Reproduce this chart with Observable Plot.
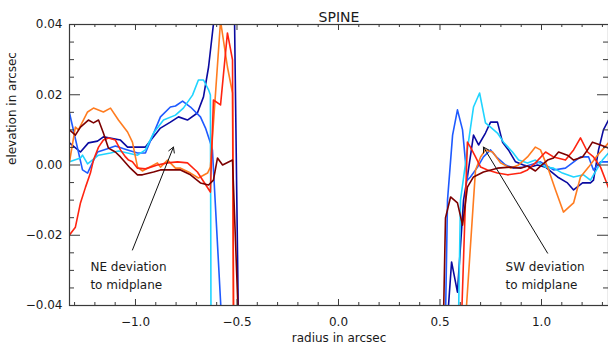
<!DOCTYPE html>
<html><head><meta charset="utf-8">
<script src="https://cdn.jsdelivr.net/npm/d3@7"></script>
<script src="https://cdn.jsdelivr.net/npm/@observablehq/plot@0.6"></script>
<style>body{margin:0;background:#fff}#chart svg{display:block}</style>
</head><body><div id="chart"></div>
<script>
// ---- data (radius in arcsec, elevation in arcsec) ----
const seriesNames  = ["navy", "blue", "cyan", "orange", "red", "darkred"];
const seriesColors = ["#0a0aa0", "#1e5aff", "#20d4ff", "#ff7c20", "#ff2410", "#7c0000"];

// NE side
const neNavyX = [-1.325,-1.271,-1.232,-1.187,-1.158,-1.074,-1.039,-0.951,-0.877,-0.828,-0.788,-0.744,-0.695,-0.665,-0.640,-0.616,-0.581,-0.542,-0.512,-0.493];
const neNavyY = [0.0063,0.0037,0.0063,0.0068,0.0080,0.0071,0.0051,0.0051,0.0105,0.0122,0.0137,0.0128,0.0148,0.0194,0.0279,0.0401,0.055,0.058,0.041,-0.045];
const neBlueX = [-1.325,-1.261,-1.236,-1.187,-1.138,-1.099,-1.039,-0.990,-0.951,-0.877,-0.828,-0.803,-0.768,-0.729,-0.680,-0.655,-0.631,-0.621,-0.576];
const neBlueY = [0.0148,-0.0014,-0.0023,0.0037,0.0046,0.0054,0.0043,0.0034,0.0034,0.0137,0.0165,0.0168,0.0182,0.0165,0.0137,0.0105,0.0063,0.0043,-0.0441];
const neCyanX = [-1.325,-1.271,-1.261,-1.236,-1.182,-1.123,-1.084,-1.039,-0.990,-0.951,-0.911,-0.862,-0.803,-0.764,-0.719,-0.690,-0.665,-0.640,-0.631,-0.628];
const neCyanY = [0.0009,0.0020,0.0028,0.0003,0.0028,0.0034,0.0040,0.0034,0.0028,0.0043,0.0091,0.0128,0.0142,0.0162,0.0199,0.0242,0.0242,0.0214,0.0199,-0.0441];
const neOrangeX = [-1.325,-1.296,-1.281,-1.236,-1.207,-1.158,-1.123,-1.084,-1.039,-1.015,-0.990,-0.966,-0.892,-0.877,-0.842,-0.803,-0.778,-0.729,-0.690,-0.645,-0.631,-0.581,-0.547,-0.522,-0.517];
const neOrangeY = [0.0009,0.0108,0.0100,0.0151,0.0162,0.0151,0.0162,0.0128,0.0094,0.0065,-0.0006,-0.0017,0.0006,-0.0006,0.0014,-0.0009,-0.0009,-0.0023,-0.0037,-0.0023,-0.0006,0.0410,0.0279,0.0205,-0.0441];
const neRedX = [-1.325,-1.296,-1.271,-1.246,-1.222,-1.207,-1.182,-1.158,-1.133,-1.099,-1.074,-1.049,-1.034,-1.015,-0.990,-0.951,-0.892,-0.842,-0.793,-0.744,-0.695,-0.631,-0.616,-0.581,-0.547,-0.522,-0.517];
const neRedY = [-0.0199,-0.0177,-0.0108,-0.0063,-0.0023,0.0014,0.0051,0.0071,0.0077,0.0071,0.0043,0.0023,0.0014,0.0009,-0.0009,-0.0011,0.0000,0.0006,0.0009,0.0006,-0.0020,-0.0077,0.0185,0.0171,0.0376,0.0299,-0.0441];
const neDarkredX = [-1.325,-1.296,-1.271,-1.232,-1.207,-1.182,-1.158,-1.133,-1.099,-1.074,-1.025,-0.990,-0.966,-0.911,-0.877,-0.778,-0.729,-0.680,-0.640,-0.616,-0.596,-0.571,-0.522,-0.493];
const neDarkredY = [0.0100,0.0085,0.0108,0.0128,0.0120,0.0128,0.0091,0.0048,0.0037,0.0023,-0.0009,-0.0028,-0.0028,-0.0020,-0.0014,-0.0014,-0.0028,-0.0051,-0.0057,-0.0043,0.0020,0.0000,0.0014,-0.0441];

// SW side
const swNavyX = [0.537,0.557,0.586,0.616,0.635,0.665,0.690,0.724,0.749,0.783,0.808,0.837,0.872,0.911,0.946,0.980,1.020,1.079,1.128,1.158,1.202,1.241,1.256,1.281,1.305,1.330];
const swNavyY = [-0.0441,-0.0276,-0.0362,-0.0100,-0.0034,0.0085,0.0057,0.0091,0.0122,0.0122,0.0065,0.0043,0.0009,0.0000,-0.0006,0.0000,-0.0006,-0.0034,-0.0051,-0.0071,-0.0051,-0.0051,-0.0043,0.0043,0.0100,0.0128];
const swBlueX = [0.527,0.537,0.562,0.586,0.611,0.626,0.635,0.650,0.685,0.714,0.749,0.783,0.823,0.862,0.911,0.995,1.059,1.118,1.192,1.232,1.256,1.291,1.330];
const swBlueY = [-0.0441,-0.0100,0.0085,0.0157,0.0100,0.0006,-0.0043,-0.0034,-0.0006,0.0023,0.0043,0.0020,0.0000,-0.0009,-0.0006,0.0009,-0.0014,-0.0009,0.0023,0.0023,-0.0014,0.0009,0.0009];
const swCyanX = [0.591,0.601,0.640,0.665,0.695,0.724,0.749,0.783,0.813,0.857,0.887,0.931,0.970,1.020,1.059,1.103,1.158,1.207,1.241,1.276,1.300,1.330];
const swCyanY = [-0.0441,-0.0100,0.0065,0.0165,0.0205,0.0120,0.0108,0.0091,0.0065,0.0037,0.0014,0.0006,0.0014,-0.0006,-0.0009,-0.0023,-0.0034,-0.0028,-0.0043,-0.0009,0.0014,0.0034];
const swOrangeX = [0.626,0.665,0.675,0.700,0.724,0.759,0.798,0.847,0.887,0.931,0.970,0.995,1.030,1.069,1.108,1.158,1.192,1.232,1.276,1.330];
const swOrangeY = [-0.0441,-0.0100,-0.0014,0.0023,0.0043,0.0037,0.0006,-0.0009,0.0000,0.0023,0.0051,0.0043,-0.0006,-0.0071,-0.0134,-0.0108,-0.0034,-0.0006,0.0028,0.0063];
const swRedX = [0.606,0.635,0.650,0.675,0.700,0.734,0.783,0.833,0.897,0.931,0.970,1.020,1.059,1.118,1.158,1.192,1.227,1.256,1.291,1.330];
const swRedY = [-0.0441,0.0065,0.0051,0.0023,-0.0006,-0.0014,-0.0023,-0.0028,-0.0023,-0.0014,0.0006,0.0037,0.0023,0.0014,0.0043,0.0077,0.0037,0.0023,-0.0006,-0.0065];
const swDarkredX = [0.517,0.527,0.552,0.586,0.611,0.635,0.665,0.714,0.783,0.847,0.897,0.931,0.970,0.995,1.030,1.059,1.084,1.128,1.158,1.202,1.227,1.251,1.291,1.330];
const swDarkredY = [-0.0441,-0.0151,-0.0091,-0.0108,-0.0171,-0.0063,-0.0034,-0.0020,-0.0009,-0.0006,-0.0009,-0.0003,-0.0017,-0.0003,0.0014,0.0020,0.0037,0.0028,0.0014,0.0023,0.0043,0.0065,0.0057,0.0048];

// axes
const xMajorTicks = [-1.0, -0.5, 0.0, 0.5, 1.0];
const xMinorTicks = [-1.3,-1.2,-1.1,-0.9,-0.8,-0.7,-0.6,-0.4,-0.3,-0.2,-0.1,0.1,0.2,0.3,0.4,0.6,0.7,0.8,0.9,1.1,1.2,1.3];
const yMajorTicks = [-0.04, -0.02, 0.00, 0.02, 0.04];
const yMinorTicks = [-0.035,-0.03,-0.025,-0.015,-0.01,-0.005,0.005,0.01,0.015,0.025,0.03,0.035];

// annotations
const noteLabels = [
  {x: -1.222, y: -0.0290, text: "NE deviation"},
  {x: -1.222, y: -0.0342, text: "to midplane"},
  {x: 0.823, y: -0.0290, text: "SW deviation"},
  {x: 0.823, y: -0.0342, text: "to midplane"}
];
const noteArrows = [
  {x1: -1.015, y1: -0.0242, x2: -0.813, y2: 0.0051},
  {x1: 1.030, y1: -0.0251, x2: 0.714, y2: 0.0051}
];

// ---- build table ----
const sides = {
  NE: [neNavyX, neNavyY, neBlueX, neBlueY, neCyanX, neCyanY, neOrangeX, neOrangeY, neRedX, neRedY, neDarkredX, neDarkredY],
  SW: [swNavyX, swNavyY, swBlueX, swBlueY, swCyanX, swCyanY, swOrangeX, swOrangeY, swRedX, swRedY, swDarkredX, swDarkredY]
};
const colorOf = Object.fromEntries(seriesNames.map((s, i) => [s, seriesColors[i]]));
const rows = [];
seriesNames.forEach((s, i) => {
  for (const side of ["NE", "SW"]) {
    const xs = sides[side][2 * i], ys = sides[side][2 * i + 1];
    xs.forEach((x, j) => rows.push({x, y: ys[j], series: s, key: s + side}));
  }
});

const W = 608, H = 351, mL = 69, mT = 24, mR = 0, mB = 46;
const fw = W - mL - mR, fh = H - mT - mB;
const fmtY = d => (d < 0 ? "\u2212" : "") + Math.abs(d).toFixed(2);
const fmtX = d => (d < 0 ? "\u2212" : "") + Math.abs(d).toFixed(1);
const axisColor = "#3a3a3a";
const textColor = "#1a1a1a";
const font = "DejaVu Sans, Verdana, sans-serif";

const chart = Plot.plot({
  width: W, height: H,
  marginLeft: mL, marginTop: mT, marginRight: mR, marginBottom: mB,
  style: {fontFamily: font, fontSize: "12px", color: textColor, background: "#fff"},
  x: {domain: [-1.325, 1.33]},
  y: {domain: [-0.04, 0.04]},
  color: {type: "identity"},
  marks: [
    Plot.line(rows, {x: "x", y: "y", z: "key", stroke: d => colorOf[d.series], strokeWidth: 1.6, clip: true, curve: "linear"}),
    Plot.frame({stroke: axisColor, strokeWidth: 1.2}),
    // inward ticks
    Plot.tickX(xMajorTicks, {x: d => d, insetTop: fh - 6, stroke: axisColor}),
    Plot.tickX(xMajorTicks, {x: d => d, insetBottom: fh - 6, stroke: axisColor}),
    Plot.tickX(xMinorTicks, {x: d => d, insetTop: fh - 3, stroke: axisColor}),
    Plot.tickX(xMinorTicks, {x: d => d, insetBottom: fh - 3, stroke: axisColor}),
    Plot.tickY(yMajorTicks, {y: d => d, insetRight: fw - 11, stroke: axisColor}),
    Plot.tickY(yMajorTicks, {y: d => d, insetLeft: fw - 11, stroke: axisColor}),
    Plot.tickY(yMinorTicks, {y: d => d, insetRight: fw - 5, stroke: axisColor}),
    Plot.tickY(yMinorTicks, {y: d => d, insetLeft: fw - 5, stroke: axisColor}),
    Plot.axisX({ticks: xMajorTicks, tickSize: 0, tickPadding: 12, tickFormat: fmtX, label: null, fontSize: 12}),
    Plot.axisY({ticks: yMajorTicks, tickSize: 0, tickPadding: 7, tickFormat: fmtY, label: null, fontSize: 12}),
    // titles
    Plot.text(["SPINE"], {frameAnchor: "top", dy: -12, fontSize: 14, fill: textColor}),
    Plot.text(["radius in arcsec"], {frameAnchor: "bottom", dy: 36, fontSize: 12, fill: textColor}),
    Plot.text(["elevation in arcsec"], {frameAnchor: "left", dx: -57, rotate: -90, fontSize: 12, fill: textColor}),
    // annotations
    Plot.arrow(noteArrows, {x1: "x1", y1: "y1", x2: "x2", y2: "y2", stroke: "#111", strokeWidth: 1, headLength: 9}),
    Plot.text(noteLabels, {x: "x", y: "y", text: "text", textAnchor: "start", fontSize: 12, fill: textColor})
  ]
});
document.getElementById("chart").appendChild(chart);
</script>
</body></html>
